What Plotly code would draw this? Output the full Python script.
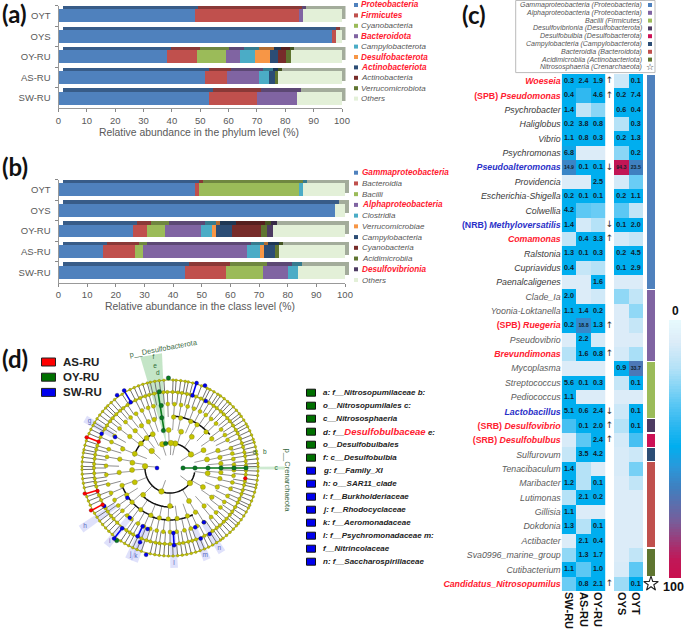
import numpy as np
import plotly.graph_objects as go

W, H = 685, 630
def X(p): return p / W
def Y(p): return 1 - p / H
def dx(a, b): return [X(a), X(b)]
def dy(a, b): return [Y(b), Y(a)]

# ---------- panel (a)
samples = ["OYT", "OYS", "OY-RU", "AS-RU", "SW-RU"]
phylum_names = ["Proteobacteria", "Firmicutes", "Cyanobacteria", "Bacteroidota", "Campylobacterota",
                "Desulfobacterota", "Actinobacteriota", "Actinobacteria", "Verrucomicrobiota", "Others"]
phylum_red = [1, 1, 0, 1, 0, 1, 1, 0, 0, 0]
proteobacteria = [48.0, 96.6, 38.4, 51.8, 53.1]
firmicutes = [36.8, 1.4, 10.3, 7.6, 17.0]
cyanobacteria = [0, 0, 10.3, 0, 0]
bacteroidota = [1.4, 0, 5.1, 11.3, 14.1]
campylobacterota = [0, 0, 5.2, 3.7, 0]
desulfobacterota = [0, 0, 5.4, 0, 0]
actinobacteriota = [0, 0, 2.6, 1.8, 0]
actinobacteria = [0, 0, 3.1, 0, 0]
verrucomicrobiota = [0, 0, 1.5, 1.3, 0]
phylum_others = [13.8, 2.0, 18.1, 22.5, 15.8]
phylum_values = [proteobacteria, firmicutes, cyanobacteria, bacteroidota, campylobacterota,
                 desulfobacterota, actinobacteriota, actinobacteria, verrucomicrobiota, phylum_others]
phylum_colors = ["#4f81bd", "#c0504d", "#9bbb59", "#8064a2", "#4bacc6", "#f79646", "#2c4d75", "#772c2a", "#5f7530", "#e3f0d8"]

# ---------- panel (b)
class_names = ["Gammaproteobacteria", "Bacteroidia", "Bacilli", "Alphaproteobacteria", "Clostridia",
               "Verrucomicrobiae", "Campylobacteria", "Cyanobacteria", "Acidimicrobiia", "Desulfovibrionia", "Others"]
class_red = [1, 0, 0, 1, 0, 0, 0, 0, 0, 1, 0]
gammaproteobacteria = [47.6, 96.5, 26.0, 15.5, 44.2]
bacteroidia = [1.4, 0, 5.0, 11.3, 14.1]
bacilli = [34.8, 0, 6.1, 2.6, 13.0]
alphaproteobacteria = [0, 0, 12.6, 36.3, 8.8]
clostridia = [1.4, 0, 3.8, 4.8, 3.6]
verrucomicrobiae = [0, 0, 1.6, 1.3, 0]
campylobacteria = [0, 0, 5.3, 3.7, 0]
cyano_class = [0, 0, 10.2, 0, 0]
acidimicrobiia = [0, 0, 2.1, 1.5, 0]
desulfovibrionia = [0, 0, 2.3, 0, 0]
class_others = [14.8, 3.5, 25.0, 23.0, 16.3]
class_values = [gammaproteobacteria, bacteroidia, bacilli, alphaproteobacteria, clostridia,
                verrucomicrobiae, campylobacteria, cyano_class, acidimicrobiia, desulfovibrionia, class_others]
class_colors = ["#4f81bd", "#c0504d", "#9bbb59", "#8064a2", "#4bacc6", "#f79646", "#2c4d75", "#772c2a", "#5f7530", "#4d3b62", "#e3f0d8"]

# ---------- panel (c)
genera = ["Woeseia", "Pseudomonas", "Psychrobacter", "Haliglobus", "Vibrio", "Psychromonas", "Pseudoalteromonas",
          "Providencia", "Escherichia-Shigella", "Colwellia", "Methyloversatilis", "Comamonas", "Ralstonia",
          "Cupriavidus", "Paenalcaligenes", "Clade_Ia", "Yoonia-Loktanella", "Ruegeria", "Pseudovibrio",
          "Brevundimonas", "Mycoplasma", "Streptococcus", "Pediococcus", "Lactobacillus", "Desulfovibrio",
          "Desulfobulbus", "Sulfurovum", "Tenacibaculum", "Maribacter", "Lutimonas", "Gillisia", "Dokdonia",
          "Actibacter", "Sva0996_marine_group", "Cutibacterium", "Candidatus_Nitrosopumilus"]
genus_prefix = {"Pseudomonas": "(SPB) ", "Methyloversatilis": "(NRB) ", "Ruegeria": "(SPB) ",
                "Desulfovibrio": "(SRB) ", "Desulfobulbus": "(SRB) "}
genus_red = ["Woeseia", "Pseudomonas", "Comamonas", "Ruegeria", "Brevundimonas", "Desulfovibrio", "Desulfobulbus",
             "Candidatus_Nitrosopumilus"]
genus_blue = ["Pseudoalteromonas", "Methyloversatilis", "Lactobacillus"]
N = None
label_sw = [.3,.4,1.4,.2,1.1,6.8,14.9,N,.2,4.2,1.4,N,1.3,.4,N,2.0,1.1,.2,N,N,N,5.6,1.1,5.1,N,N,N,1.4,1.2,N,1.1,1.3,N,N,1.1,N]
label_as = [2.4,N,N,3.8,.8,N,.1,N,.1,N,N,.4,.1,N,N,N,1.4,18.8,2.2,1.6,N,.1,N,.6,.1,N,3.5,N,N,2.1,N,N,2.1,1.3,N,.8]
label_oy = [1.9,4.6,N,.8,.3,N,.1,2.5,.1,N,N,3.3,.3,N,1.6,N,.2,1.3,N,.8,N,.3,N,2.4,2.0,2.4,4.2,N,.1,.2,N,.1,.4,1.7,1.0,2.1]
label_oys = [N,.2,.6,N,.2,N,94.3,N,.2,N,.1,N,.2,.1,N,N,N,N,N,N,.9,N,N,N,N,N,N,N,N,N,N,N,N,N,N,N]
label_oyt = [.1,7.4,.4,.3,1.3,.2,23.5,N,1.1,N,2.0,N,4.5,2.9,N,N,N,N,N,N,33.7,.1,N,.1,.1,N,N,N,N,N,N,N,N,N,N,.1]
level_sw = [49,49,49,49,49,52,63,8,49,49,49,15,49,49,8,49,49,49,8,18,8,49,49,49,36,9,14,49,49,18,49,49,8,24,49,30]
level_as = [49,40,15,49,49,8,49,8,49,32,10,49,49,14,8,8,49,62,49,49,8,49,8,49,49,32,49,18,18,49,8,18,49,49,32,49]
level_oy = [49,49,25,49,49,8,49,49,49,30,18,49,49,18,49,11,49,49,10,49,8,49,8,49,49,49,49,8,49,49,8,49,49,49,49,49]
level_oys = [12,49,49,18,49,25,95,10,49,32,49,10,49,49,8,24,8,8,8,10,49,14,8,12,18,10,9,9,8,8,8,8,8,8,9,22]
level_oyt = [49,49,49,49,49,49,65,30,49,15,49,14,49,49,8,15,24,14,8,20,68,49,8,49,49,36,12,28,15,8,8,8,8,15,32,49]
arrows_up = ["Woeseia", "Pseudomonas", "Comamonas", "Ruegeria", "Brevundimonas", "Desulfovibrio", "Desulfobulbus",
             "Candidatus_Nitrosopumilus"]
arrows_down = ["Pseudoalteromonas", "Methyloversatilis", "Lactobacillus"]
group_sizes = [15, 5, 4, 1, 1, 1, 6, 2]
group_colors = ["#4f81bd", "#8064a2", "#9bbb59", "#4d3b62", "#cc1155", "#2c4d75", "#c0504d", "#5f7530"]
c_legend = ["Gammaproteobacteria (Proteobacteria)", "Alphaproteobacteria (Proteobacteria)", "Bacilli (Firmicutes)",
            "Desulfovibrionia (Desulfobacterota)", "Desulfobulbia (Desulfobacterota)",
            "Campylobacteria (Campylobacterota)", "Bacteroidia (Bacteroidota)", "Acidimicrobiia (Actinobacteriota)",
            "Nitrososphaeria (Crenarchaeota)"]
c_legend_colors = ["#4f81bd", "#8064a2", "#9bbb59", "#4d3b62", "#cc1155", "#2c4d75", "#c0504d", "#5f7530"]
heat_scale = [[0, "#e6f9fd"], [.08, "#dcecf8"], [.18, "#b5e2f7"], [.25, "#8ad6f6"], [.32, "#5cc8f4"], [.40, "#30b8f0"],
              [.49, "#00aeef"], [.57, "#2a98da"], [.65, "#3f80c0"], [.79, "#7a5b98"], [.93, "#c01858"], [1, "#c8104f"]]

# ---------- panel (d): node angles read per ring (degrees) and ring radii
ring_radii = [25, 38, 51, 64, 76, 88]
ring_25 = [33, 78, 88, 108, 137, 176, 250, 323]
ring_38 = [13, 28, 55, 73, 92, 117, 128, 140, 158, 172, 183, 202, 225, 270, 300, 330, 352]
ring_51 = [5, 12, 20, 35, 45, 58, 66, 78, 86, 108, 115, 124, 133, 142, 158, 170, 185, 200, 212, 222, 235, 248, 258,
           268, 278, 290, 300, 312, 325, 338, 348, 355]
ring_64 = [3, 8, 13, 18, 26, 31, 37, 44, 50, 56, 62, 68, 74, 80, 86, 92, 105, 110, 116, 122, 128, 134, 142, 150, 156,
           163, 170, 178, 186, 195, 203, 210, 216, 222, 228, 233, 240, 246, 252, 258, 264, 270, 276, 283, 289, 295,
           302, 310, 316, 322, 328, 334, 341, 347, 353, 358]
ring_76 = [2, 5, 9, 12, 16, 19, 23, 27, 30, 34, 38, 41, 45, 48, 52, 55, 59, 63, 66, 70, 74, 77, 81, 84, 88, 92, 95,
           102, 106, 109, 113, 117, 124, 128, 131, 135, 139, 142, 146, 149, 156, 163, 166, 170, 173, 177, 180, 184,
           188, 191, 194, 201, 205, 212, 215, 219, 222, 226, 235, 238, 241, 248, 252, 255, 259, 262, 266, 270, 277,
           280, 284, 287, 290, 297, 304, 308, 311, 315, 318, 322, 325, 329, 333, 336, 340, 343, 347, 350, 355, 358]
ring_88 = [1, 3, 6, 9, 11, 14, 17, 19, 22, 25, 28, 30, 33, 36, 38, 41, 44, 47, 49, 52, 55, 57, 60, 63, 65, 69, 75, 78,
           80, 83, 86, 88, 94, 97, 100, 103, 105, 108, 111, 114, 117, 123, 129, 132, 135, 137, 140, 143, 146, 149, 151,
           154, 157, 162, 165, 168, 170, 173, 176, 179, 181, 184, 187, 190, 193, 199, 202, 205, 211, 214, 217, 220,
           223, 226, 229, 236, 239, 242, 245, 248, 251, 257, 260, 263, 266, 269, 272, 275, 278, 281, 284, 287, 290,
           293, 296, 299, 302, 305, 307, 310, 313, 316, 319, 321, 324, 327, 330, 333, 335, 338, 341, 344, 347, 349,
           352, 355, 358]
blue_r = [13, 89, 76, 89.5, 76, 90, 76.6, 90, 63, 76.5, 76, 52, 64, 77, 90, 75.6, 64.4, 65, 80, 90, 65, 77.4, 64.5, 77, 77, 64]
blue_t = [180, 72.6, 72.8, 67, 61.9, 120.6, 120.9, 126, 150.6, 153.3, 210, 215, 231, 231.6, 231.6, 244.7, 244.9, 249.9,
          248, 254.6, 273, 273, 293, 293.5, 301, 302]
red_r = [88.8, 76, 89, 76, 89.6, 76.7, 76]
red_t = [159.8, 159.7, 196.7, 197.6, 208.2, 208.6, 352.2]
green_r = [13, 25, 38, 51, 64, 76, 25, 38, 51, 63, 77, 90, 90]
green_t = [0, 0, 0, 0, 0, 0, 100, 100, 99.3, 98, 98, 91, 233.7]
black_arcs = [(25, 175, 350), (25, 28, 105), (38, 118, 162), (39, 225, 275), (51, 200, 250), (52, 246, 296),
              (52, 40, 66), (52, 66, 85)]
clade_labels = ["a", "b", "c", "d", "e", "f", "g", "h", "i", "j", "k", "l", "m", "n"]
clade_r = [86, 96, 106, 95, 103, 112, 93, 103, 95, 95, 95, 95, 94, 94]
clade_t = [10.4, 9.4, 0, 97.4, 98.3, 98.5, 150, 214.5, 230.7, 245.6, 249, 272.4, 292, 301.7]
d_legend = ["AS-RU", "OY-RU", "SW-RU"]
d_legend_colors = ["#ff0000", "#007000", "#0000ee"]
biomarkers = ["a: f__Nitrosopumilaceae b:", "o__Nitrosopumilales c:", "c__Nitrososphaeria",
              "d: f__<span style='color:#ff2030;font-size:9.5px'>Desulfobulbaceae</span> e:", "o__Desulfobulbales",
              "f: c__Desulfobulbia", "g: f__Family_XI", "h: o__SAR11_clade", "i: f__Burkholderiaceae",
              "j: f__Rhodocyclaceae", "k: f__Aeromonadaceae", "l: f__Psychromonadaceae m:", "f__Nitrincolaceae",
              "n: f__Saccharospirillaceae"]
biomarker_colors = ["#007000"] * 6 + ["#0000ee"] * 8

SANS = "Liberation Sans, Arial, sans-serif"
def darker(hexc, k=.72):
    return "#%02x%02x%02x" % tuple(int(int(hexc[i:i + 2], 16) * k) for i in (1, 3, 5))

fig = go.Figure()
anns, shapes = [], []
def txt(s, x, y, size, color="#333", anchor="left", angle=0, family=SANS):
    anns.append(dict(text=s, x=X(x), y=Y(y), xref="paper", yref="paper", xanchor=anchor, yanchor="middle",
                     showarrow=False, font=dict(size=size, color=color, family=family), textangle=angle))
def box(x0, y0, x1, y1, fill, line=None, lw=0):
    shapes.append(dict(type="rect", xref="paper", yref="paper", x0=X(x0), x1=X(x1), y0=Y(y0), y1=Y(y1),
                       fillcolor=fill, line=dict(color=line or fill, width=lw), layer="above"))

def stacked(values, colors, names, ax_back, ax_front):
    for v, c, n in zip(values, colors, names):
        fig.add_trace(go.Bar(x=v, y=samples, orientation="h", marker=dict(color=darker(c), line_width=0),
                             xaxis=ax_back[0], yaxis=ax_back[1], showlegend=False, name=n, width=.63))
    for v, c, n in zip(values, colors, names):
        fig.add_trace(go.Bar(x=v, y=samples, orientation="h", marker=dict(color=c, line_width=0),
                             xaxis=ax_front[0], yaxis=ax_front[1], showlegend=False, name=n, width=.63))

stacked(phylum_values, phylum_colors, phylum_names, ("x", "y"), ("x2", "y2"))
stacked(class_values, class_colors, class_names, ("x3", "y3"), ("x4", "y4"))

# heatmaps
cols1 = ["SW-RU", "AS-RU", "OY-RU"]
cols2 = ["OYS", "OYT"]
def heat(cols, levels, labels, xa, ya):
    fig.add_trace(go.Heatmap(z=np.array(levels, float).T.tolist(), x=cols, y=genera, zmin=0, zmax=100,
                             colorscale=heat_scale, showscale=False, xaxis=xa, yaxis=ya, xgap=0, ygap=0))
    xs, ys, ts, ss = [], [], [], []
    for c, lab in zip(cols, labels):
        for g, v in zip(genera, lab):
            if v is not None:
                xs.append(c); ys.append(g); ts.append("%.1f" % v); ss.append(5.2 if v >= 10 else 7.2)
    fig.add_trace(go.Scatter(x=xs, y=ys, text=ts, mode="text", textfont=dict(size=ss, color="#10202c", family=SANS, weight="bold"),
                             xaxis=xa, yaxis=ya, showlegend=False))
heat(cols1, [level_sw, level_as, level_oy], [label_sw, label_as, label_oy], "x5", "y5")
heat(cols2, [level_oys, level_oyt], [label_oys, label_oyt], "x6", "y6")
ya_arrow = arrows_up + arrows_down
fig.add_trace(go.Scatter(x=[0] * len(ya_arrow), y=ya_arrow, text=["↑"] * len(arrows_up) + ["↓"] * len(arrows_down),
                         mode="text", textfont=dict(size=9, color="#333", family="DejaVu Sans"),
                         xaxis="x7", yaxis="y7", showlegend=False))
for s, c in zip(group_sizes, group_colors):
    fig.add_trace(go.Bar(x=[0], y=[s], width=1, marker=dict(color=c, line=dict(color="white", width=1.2)),
                         xaxis="x8", yaxis="y8", showlegend=False))
fig.add_trace(go.Scatter(x=[0], y=[sum(group_sizes) + .5], mode="markers", cliponaxis=False,
                         marker=dict(symbol="star-open", size=11, color="#222", line=dict(width=1.1, color="#222")),
                         xaxis="x8", yaxis="y8", showlegend=False))
levels_bar = list(range(0, 101))
fig.add_trace(go.Heatmap(z=[[v] for v in levels_bar], y=levels_bar, x=[0], zmin=0, zmax=100, colorscale=heat_scale,
                         showscale=False, xaxis="x9", yaxis="y9"))

# cladogram
def pol(**k):
    fig.add_trace(go.Scatterpolar(showlegend=False, hoverinfo="skip", subplot="polar", **k))
pol(r=[25, 115, 115, 25], theta=[99, 105, 94, 99], fill="toself", mode="none", fillcolor="rgba(60,170,70,.30)")
pol(r=[12, 115, 115, 12], theta=[0, .8, -.8, 0], fill="toself", mode="none", fillcolor="rgba(60,170,70,.25)")
for lab, r, t in zip(clade_labels[6:], clade_r[6:], clade_t[6:]):
    pol(r=[66, r + 5, r + 5, 66], theta=[t - 2.5, t - 2.2, t + 2.2, t + 2.5], fill="toself", mode="none",
        fillcolor="rgba(110,120,235,.22)")
rings = [ring_25, ring_38, ring_51, ring_64, ring_76, ring_88]
spoke_w = [.7, .7, .7, .8, .9, 1.0]
for i, angs in enumerate(rings):
    inner = ring_radii[i - 1] if i else 13
    sp_r, sp_t = [], []
    for a in angs:
        sp_r += [inner, ring_radii[i], None]
        sp_t += [a, a, None]
    pol(r=sp_r, theta=sp_t, mode="lines", line=dict(color="#707070", width=spoke_w[i]))
for rad, a0, a1 in black_arcs:
    th = np.linspace(a0, a1, 40).tolist()
    pol(r=[rad] * 40, theta=th, mode="lines", line=dict(color="#111", width=1.5))
# dense outer bands of leaf nodes
for rad, wid in [(76, 1.6), (88, 1.1)]:
    th = np.linspace(0, 360, 181).tolist()
    pol(r=[rad] * 181, theta=th, mode="lines", line=dict(color="#a8a81a", width=wid))
edges = [(12, 76, 0, "#0a7a1e"), (38, 77, 99, "#0a7a1e"), (76, 89, 72.7, "#0000ee"), (76, 90, 120.7, "#0000ee"),
         (65, 77, 273, "#0000ee"), (77, 90, 231.6, "#0000ee"), (64, 76, 244.8, "#0000ee"),
         (76, 89, 159.7, "#ff0000"), (76, 89, 197, "#ff0000"), (76, 90, 208.4, "#ff0000")]
for r0, r1, t, c in edges:
    pol(r=[r0, r1], theta=[t, t], mode="lines", line=dict(color=c, width=1.6))
sizes = [5.5, 5, 4.5, 4, 3.4, 2.6]
for i, angs in enumerate(rings):
    pol(r=[ring_radii[i]] * len(angs), theta=angs, mode="markers",
        marker=dict(color="#c4c400", size=sizes[i], line=dict(color="#80801a", width=.4)))
pol(r=green_r, theta=green_t, mode="markers", marker=dict(color="#0a7a1e", size=4.5, line=dict(color="#124", width=.3)))
pol(r=blue_r, theta=blue_t, mode="markers", marker=dict(color="#0000ee", size=4, line=dict(color="#112", width=.3)))
pol(r=red_r, theta=red_t, mode="markers", marker=dict(color="#ff0000", size=3.8, line=dict(color="#511", width=.3)))
pol(r=clade_r, theta=clade_t, mode="text", text=clade_labels,
    textfont=dict(size=6.5, family=SANS, color=["#2c6b35"] * 6 + ["#5566bb"] * 8))

grey = "#595959"
def bar_axes(xn, yn, xd, yd, front, tick_size=9.5):
    xk, yk = "xaxis" + xn, "yaxis" + yn
    base = dict(domain=xd, range=[0, 100], anchor="y" + yn, fixedrange=True, showgrid=False, zeroline=False)
    ybase = dict(domain=yd, type="category", categoryorder="array", categoryarray=samples, autorange="reversed",
                 anchor="x" + xn, showgrid=False, zeroline=False, fixedrange=True)
    if front:
        base.update(dtick=10, tick0=0, ticks="outside", ticklen=3, tickcolor="#888", showline=True, linecolor="#999",
                    tickfont=dict(size=tick_size, color=grey, family=SANS))
        ybase.update(showline=True, linecolor="#999", ticks="outside", ticklen=3, tickcolor="#888", tickson="boundaries",
                     tickfont=dict(size=tick_size, color=grey, family=SANS), ticklabelstandoff=5)
    else:
        base.update(visible=False)
        ybase.update(visible=False)
    return {xk: base, yk: ybase}

layout = dict(width=W, height=H, autosize=False, margin=dict(l=0, r=0, t=0, b=0, pad=0, autoexpand=False), paper_bgcolor="white",
              plot_bgcolor="rgba(0,0,0,0)", barmode="stack", showlegend=False, hovermode=False)
layout.update(bar_axes("", "", dx(62.5, 345.5), dy(2.3, 105), False))
layout.update(bar_axes("2", "2", dx(58.5, 342), dy(5.6, 108.3), True))
layout.update(bar_axes("3", "3", dx(62.5, 349), dy(176, 279), False))
layout.update(bar_axes("4", "4", dx(58.5, 345), dy(179.5, 282.5), True))
hidden = dict(visible=False, fixedrange=True)
rowsy = dict(type="category", categoryorder="array", categoryarray=genera, range=[35.5, -.5], fixedrange=True, showgrid=False, zeroline=False)
ticktext = []
for i, g in enumerate(genera):
    col = "#ff2030" if g in genus_red else "#2a30c8" if g in genus_blue else ("#3a3a3a" if i < 15 else "#5c5c5c")
    pre = genus_prefix.get(g, "")
    s = pre + "<i>%s</i>" % g
    if g in genus_red or g in genus_blue:
        s = "<b>%s</b>" % s
    ticktext.append("<span style='color:%s'>%s</span>" % (col, s))
layout["xaxis5"] = dict(domain=dx(561.7, 605.3), anchor="y5", type="category", categoryorder="array", categoryarray=cols1, range=[-.5, 2.5], tickangle=90,
                        side="bottom", showgrid=False, tickfont=dict(size=11, color="#111", family=SANS, weight="bold"),
                        ticks="", fixedrange=True)
layout["yaxis5"] = dict(rowsy, domain=dy(74, 591), anchor="x5", tickmode="array", tickvals=genera, ticktext=ticktext,
                        tickfont=dict(size=8.8, family=SANS), ticks="", ticklabelstandoff=0)
layout["xaxis6"] = dict(domain=dx(614, 643), anchor="y6", type="category", categoryorder="array", categoryarray=cols2, range=[-.5, 1.5], tickangle=90,
                        side="bottom", showgrid=False, tickfont=dict(size=11, color="#111", family=SANS, weight="bold"),
                        ticks="", fixedrange=True)
layout["yaxis6"] = dict(rowsy, domain=dy(74, 591), anchor="x6", showticklabels=False, ticks="")
layout["xaxis7"] = dict(hidden, domain=dx(605.3, 614), range=[-1, 1], anchor="y7")
layout["yaxis7"] = dict(rowsy, domain=dy(74, 591), anchor="x7", visible=False)
layout["xaxis8"] = dict(hidden, domain=dx(646, 656), range=[-.5, .5], anchor="y8")
layout["yaxis8"] = dict(hidden, domain=dy(74, 591), range=[36, 0], anchor="x8")
layout["xaxis9"] = dict(hidden, domain=dx(669, 681), anchor="y9")
layout["yaxis9"] = dict(hidden, domain=dy(320, 578), autorange="reversed", anchor="x9")
layout["polar"] = dict(domain=dict(x=dx(45, 295), y=dy(343, 593)), bgcolor="rgba(0,0,0,0)",
                       radialaxis=dict(visible=False, range=[0, 125]),
                       angularaxis=dict(visible=False, rotation=0, direction="counterclockwise"))

# panel letters
for s, x, y in [("(a)", 0, 13), ("(b)", 0, 167), ("(c)", 460, 14), ("(d)", 0, 358)]:
    txt("<b>%s</b>" % s, x, y, 24, "#111", family="Lato, Liberation Sans")

# bar titles
txt("Relative abundance in the phylum level (%)", 199, 132, 10.4, grey, "center")
txt("Relative abundance in the class level (%)", 200, 306, 10.4, grey, "center")

# legends a, b
def bar_legend(names, reds, colors, x_sw, x_t, y0, step):
    for i, (n, r, c) in enumerate(zip(names, reds, colors)):
        y = y0 + i * step
        box(x_sw, y - 2, x_sw + 4, y + 2, c)
        if r:
            txt("<b><i>%s</i></b>" % n, x_t, y, 8.2, "#ff2030")
        else:
            txt("<i>%s</i>" % n, x_t, y, 8, "#555")
bar_legend(phylum_names, phylum_red, phylum_colors, 354, 359, 5, 10.4)
bar_legend(class_names, class_red, class_colors, 354, 360, 172.7, 10.73)

# legend c
box(515.7, 0.5, 655, 72.6, "rgba(0,0,0,0)", "#bbb", 1)
for i, n in enumerate(c_legend):
    y = 5 + i * 7.8
    txt("<i>%s</i>" % n, 643.5, y, 7, "#555", "right")
    if i < 8:
        box(648, y - 2, 652, y + 2, c_legend_colors[i])
txt("☆", 650, 67, 9, "#222", "center", family="DejaVu Sans")
txt("<b>0</b>", 675, 311, 12, "#111", "center")
txt("<b>100</b>", 673.5, 587, 12.5, "#111", "center")

# legend d
for i, (n, c) in enumerate(zip(d_legend, d_legend_colors)):
    y = 362 + i * 15.2
    box(41.5, y - 4, 55.5, y + 4, c, "#222", 1)
    txt("<b>%s</b>" % n, 61, y, 11.5, "#222")
for i, (n, c) in enumerate(zip(biomarkers, biomarker_colors)):
    y = 392.7 + i * 13
    box(306.5, y - 3.5, 315.5, y + 3.5, c, "#111", 1)
    txt("<b><i>%s</i></b>" % n, 321, y, 8, "#222")
txt("p__Desulfobacterota", 163, 348, 7.4, "#3d6b45", "center", -10.5)
txt("p__Crenarchaeota", 287.5, 480, 7.6, "#3d6b45", "center", 90)

layout["annotations"] = anns
layout["shapes"] = shapes
fig.update_layout(**layout)
fig.write_html("out.html", post_script="document.body.style.margin='0';", config=dict(displayModeBar=False))
